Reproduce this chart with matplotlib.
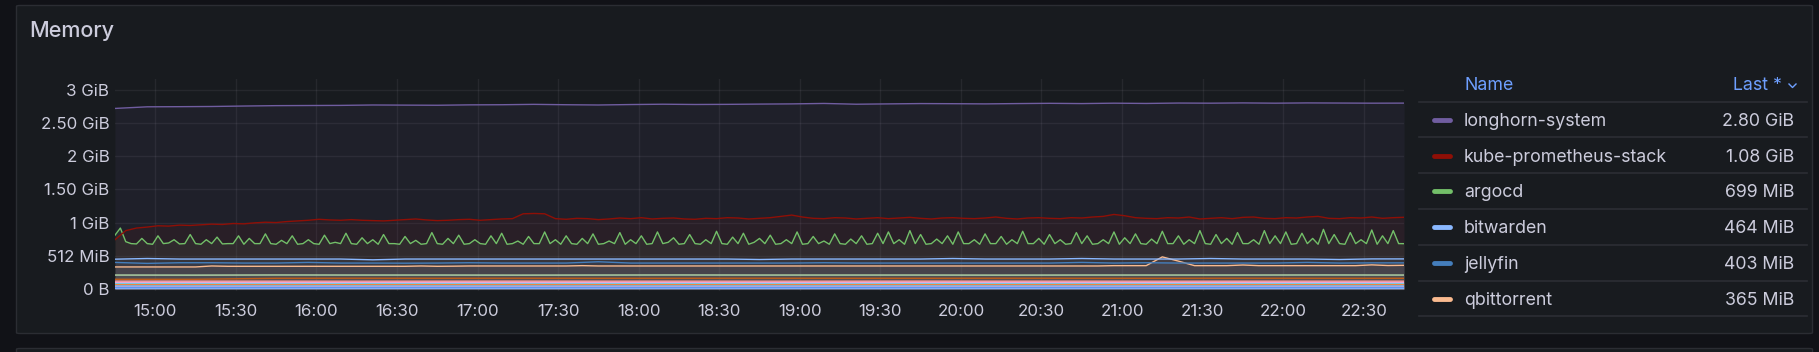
import numpy as np
import matplotlib
matplotlib.use("Agg")
import matplotlib.pyplot as plt
from matplotlib.patches import FancyBboxPatch
from matplotlib.lines import Line2D

plt.rcParams['font.family'] = ['Inter', 'DejaVu Sans']

# ---------------- data ----------------
title = "Memory"
time_start_hour = 14.75   # 14:45
time_end_hour = 22.75     # 22:45
x_tick_labels = ["15:00", "15:30", "16:00", "16:30", "17:00", "17:30", "18:00", "18:30",
                 "19:00", "19:30", "20:00", "20:30", "21:00", "21:30", "22:00", "22:30"]
y_tick_values_mib = [0, 512, 1024, 1536, 2048, 2560, 3072]
y_tick_labels = ["0 B", "512 MiB", "1 GiB", "1.50 GiB", "2 GiB", "2.50 GiB", "3 GiB"]

legend_names = ["longhorn-system", "kube-prometheus-stack", "argocd", "bitwarden", "jellyfin", "qbittorrent"]
legend_last = ["2.80 GiB", "1.08 GiB", "699 MiB", "464 MiB", "403 MiB", "365 MiB"]
legend_colors = ["#705DA0", "#8F0F06", "#73BF69", "#8AB8FF", "#447EBC", "#F9BA8F"]

longhorn_system = [2785, 2810, 2812, 2815, 2822, 2828, 2830, 2832, 2838, 2836, 2834, 2840, 2842, 2848,
                   2842, 2838, 2845, 2850, 2846, 2848, 2852, 2855, 2862, 2850, 2855, 2860, 2858, 2855,
                   2860, 2864, 2860, 2866, 2862, 2868, 2866, 2870, 2866, 2870, 2868, 2866, 2867]

kube_prometheus_stack = [760, 900, 940, 955, 975, 970, 985, 980, 990, 1000, 995, 1010, 1005, 1020, 1030,
                         1025, 1040, 1050, 1060, 1075, 1065, 1060, 1070, 1060, 1055, 1050, 1060, 1070,
                         1080, 1065, 1055, 1060, 1070, 1075, 1060, 1070, 1080, 1085, 1160, 1165, 1160,
                         1085, 1075, 1090, 1085, 1070, 1080, 1095, 1085, 1100, 1080, 1090, 1095, 1080,
                         1075, 1090, 1085, 1100, 1095, 1080, 1090, 1100, 1120, 1140, 1110, 1090, 1085,
                         1100, 1095, 1080, 1090, 1100, 1085, 1095, 1105, 1090, 1080, 1095, 1100, 1090,
                         1085, 1095, 1110, 1090, 1080, 1095, 1100, 1090, 1085, 1100, 1095, 1110, 1120,
                         1150, 1130, 1100, 1090, 1085, 1100, 1095, 1110, 1080, 1090, 1100, 1085, 1105,
                         1110, 1090, 1085, 1100, 1095, 1110, 1120, 1090, 1085, 1100, 1095, 1110, 1090,
                         1100, 1106]

argocd = [830, 940, 730, 700, 695, 780, 700, 690, 820, 700, 710, 760, 695, 700, 840, 700, 690, 760, 700, 800,
          695, 700, 700, 820, 690, 780, 700, 700, 850, 700, 690, 750, 700, 820, 690, 700, 760, 700, 690, 830,
          700, 720, 700, 860, 700, 690, 790, 700, 760, 690, 840, 700, 700, 690, 810, 700, 750, 690, 700, 870,
          700, 690, 780, 700, 830, 690, 700, 760, 700, 690, 820, 700, 860, 690, 700, 740, 690, 810, 700, 700,
          880, 700, 760, 690, 820, 700, 690, 780, 700, 850, 690, 700, 740, 700, 870, 690, 760, 700, 820, 690,
          700, 880, 700, 720, 790, 690, 700, 840, 700, 690, 760, 700, 890, 700, 690, 800, 700, 860, 690, 720,
          780, 700, 830, 690, 700, 760, 700, 880, 690, 700, 810, 700, 740, 690, 850, 700, 690, 770, 700, 820,
          690, 700, 860, 700, 880, 700, 760, 690, 900, 700, 840, 690, 700, 770, 700, 820, 690, 880, 700, 700,
          760, 690, 850, 700, 700, 810, 690, 760, 700, 890, 700, 700, 780, 690, 840, 700, 760, 690, 700, 870,
          700, 820, 690, 700, 760, 700, 880, 690, 790, 700, 850, 700, 690, 770, 700, 890, 700, 700, 820, 690,
          760, 700, 900, 700, 690, 840, 700, 780, 690, 870, 700, 700, 760, 690, 900, 700, 820, 700, 880, 690,
          700, 860, 700, 780, 690, 920, 700, 840, 700, 690, 870, 700, 760, 700, 910, 690, 820, 700, 900, 700,
          699]

bitwarden = [460, 470, 462, 462, 462, 462, 462, 462, 450, 462, 462, 462, 462, 462, 462, 462, 462, 462,
             462, 462, 455, 462, 462, 462, 462, 462, 470, 462, 462, 462, 470, 462, 462, 462, 470, 462,
             462, 462, 455, 464, 464]

jellyfin = [410, 395, 405, 405, 400, 400, 410, 400, 400, 398, 400, 405, 400, 400, 400, 420, 400, 400,
            400, 400, 400, 400, 405, 400, 400, 400, 400, 400, 400, 400, 410, 400, 405, 400, 400, 400,
            400, 410, 400, 403, 403]

qbittorrent = [340, 340, 340, 340, 340, 340, 355, 350, 350, 350, 350, 350, 350, 350, 350, 350, 350,
               350, 350, 355, 350, 352, 355, 355, 355, 355, 355, 355, 355, 360, 355, 355, 355, 355,
               355, 355, 355, 355, 355, 355, 355, 355, 355, 355, 355, 355, 355, 355, 355, 355, 355,
               355, 355, 355, 355, 355, 355, 355, 355, 355, 355, 355, 360, 360, 360, 495, 430, 360,
               360, 360, 370, 360, 360, 360, 360, 360, 360, 360, 372, 362, 365]

# smaller namespaces (not visible in legend)
minor_names = ["cert-manager", "traefik", "kube-system", "immich", "vaultwarden-db",
               "home-assistant", "metallb-system", "sealed-secrets", "external-dns", "reloader",
               "cloudnative-pg", "monitoring"]
minor_colors = ["#B7DBAB", "#C15C17", "#F29191", "#E5A8E2", "#6ED0E0",
                "#EF843C", "#82B5D8", "#AEA2E0", "#5794F2", "#8AB8FF", "#FCE2DE", "#BA43A9"]
minor_values = [
    [215, 214, 216, 215, 215, 214, 215, 216, 215, 215, 215, 214, 215, 215, 215, 216, 215],
    [150, 150, 165, 166, 165, 166, 165, 165, 166, 165, 165, 166, 165, 165, 166, 165, 165],
    [122, 123, 122, 121, 122, 123, 122, 122, 121, 122, 123, 122, 122, 121, 122, 122, 122],
    [102, 101, 100, 102, 101, 100, 101, 102, 101, 100, 101, 102, 101, 100, 101, 102, 101],
    [88, 88, 87, 88, 88, 89, 88, 88, 87, 88, 88, 88, 89, 88, 88, 87, 88],
    [72, 72, 73, 72, 72, 71, 72, 72, 73, 72, 72, 72, 71, 72, 72, 73, 72],
    [58, 58, 58, 57, 58, 58, 59, 58, 58, 58, 57, 58, 58, 58, 59, 58, 58],
    [40, 40, 41, 40, 40, 40, 39, 40, 40, 41, 40, 40, 40, 39, 40, 40, 40],
    [22, 22, 22, 23, 22, 22, 22, 21, 22, 22, 22, 23, 22, 22, 22, 22, 22],
    [8, 8, 8, 8, 9, 8, 8, 8, 8, 8, 7, 8, 8, 8, 8, 8, 8],
    [110, 111, 110, 110, 112, 110, 111, 110, 110, 111, 110, 112, 110, 110, 111, 110, 110],
    [32, 32, 31, 32, 32, 33, 32, 32, 31, 32, 32, 32, 33, 32, 32, 31, 32],
]

# ---------------- layout ----------------
W, H = 1819, 352
fig = plt.figure(figsize=(W / 100, H / 100), dpi=100)
fig.patch.set_facecolor("#111217")

def fx(x):
    return x / W

def fy(y):
    return 1 - y / H

BG = "#181b1f"
BORDER = "#2b2d33"
TXT = "#ccccdc"
FS = 12.8
TICK_FS = 12.2

# panels
fig.patches.append(FancyBboxPatch((fx(16.5), fy(333.5)), fx(1812.5) - fx(16.5), fy(5.5) - fy(333.5),
                                  boxstyle="round,pad=0,rounding_size=0.002", transform=fig.transFigure,
                                  facecolor=BG, edgecolor=BORDER, linewidth=1.0, zorder=-10))
fig.patches.append(FancyBboxPatch((fx(16.5), fy(380)), fx(1812.5) - fx(16.5), fy(348.5) - fy(380),
                                  boxstyle="round,pad=0,rounding_size=0.002", transform=fig.transFigure,
                                  facecolor=BG, edgecolor=BORDER, linewidth=1.0, zorder=-10))

fig.text(fx(29), fy(31.3), title, color=TXT, fontsize=15.5, va="center", ha="left", fontweight="medium")

# axes
ax_l, ax_r, ax_t, ax_b = 115, 1404, 79, 291
ax = fig.add_axes([fx(ax_l), fy(ax_b), fx(ax_r) - fx(ax_l), fy(ax_t) - fy(ax_b)])
ax.set_zorder(5)
ax.set_facecolor("none")
for s in ax.spines.values():
    s.set_visible(False)

def times(vals):
    return np.linspace(time_start_hour, time_end_hour, len(vals))

series = [(minor_values[i], minor_colors[i]) for i in range(len(minor_values))[::-1]]
series += [(qbittorrent, legend_colors[5]), (jellyfin, legend_colors[4]), (bitwarden, legend_colors[3]),
           (argocd, legend_colors[2]), (kube_prometheus_stack, legend_colors[1]),
           (longhorn_system, legend_colors[0])]

for vals, col in series:
    t = times(vals)
    ax.fill_between(t, 0, vals, color=col, alpha=0.09, linewidth=0, zorder=1)
for vals, col in series:
    t = times(vals)
    ax.plot(t, vals, color=col, linewidth=1.0, zorder=3)

ax.set_xlim(time_start_hour, time_end_hour)
ax.set_ylim(-31, 3239)

x_ticks = [int(s.split(":")[0]) + int(s.split(":")[1]) / 60 for s in x_tick_labels]
ax.set_xticks(x_ticks)
ax.set_xticklabels(x_tick_labels)
ax.set_yticks(y_tick_values_mib)
ax.set_yticklabels(y_tick_labels)
ax.tick_params(axis="both", length=0, colors=TXT, labelsize=TICK_FS)
ax.tick_params(axis="x", pad=9)
ax.tick_params(axis="y", pad=4)
ax.grid(True, color="#ccccdc", alpha=0.08, linewidth=1.0)
ax.set_axisbelow(True)

# legend table
LX0, LX1 = 1419, 1807
DY = 1.3
fig.text(fx(1464), fy(84 + DY), "Name", color="#6E9FFF", fontsize=FS, ha="left", va="center")
fig.text(fx(1782), fy(84 + DY), "Last *", color="#6E9FFF", fontsize=FS, ha="right", va="center")
fig.lines.append(Line2D([fx(1789), fx(1792.5), fx(1796)], [fy(84), fy(87.5), fy(84)],
                        transform=fig.transFigure, color="#6E9FFF", linewidth=1.0))
sep_ys = [102, 137, 173, 209, 245, 281, 316]
for y in sep_ys:
    fig.lines.append(Line2D([fx(LX0), fx(LX1)], [fy(y), fy(y)], transform=fig.transFigure,
                            color="#2c2e34", linewidth=1.2))
row_ys = [120, 156, 191, 227, 263, 299]
for name, last, col, y in zip(legend_names, legend_last, legend_colors, row_ys):
    fig.lines.append(Line2D([fx(1434), fx(1450)], [fy(y), fy(y)], transform=fig.transFigure,
                            color=col, linewidth=3.5, solid_capstyle="round"))
    fig.text(fx(1464), fy(y + DY), name, color=TXT, fontsize=FS, ha="left", va="center")
    fig.text(fx(1794), fy(y + DY), last, color=TXT, fontsize=FS, ha="right", va="center")

fig.savefig("out.png", dpi=100, facecolor=fig.get_facecolor())
